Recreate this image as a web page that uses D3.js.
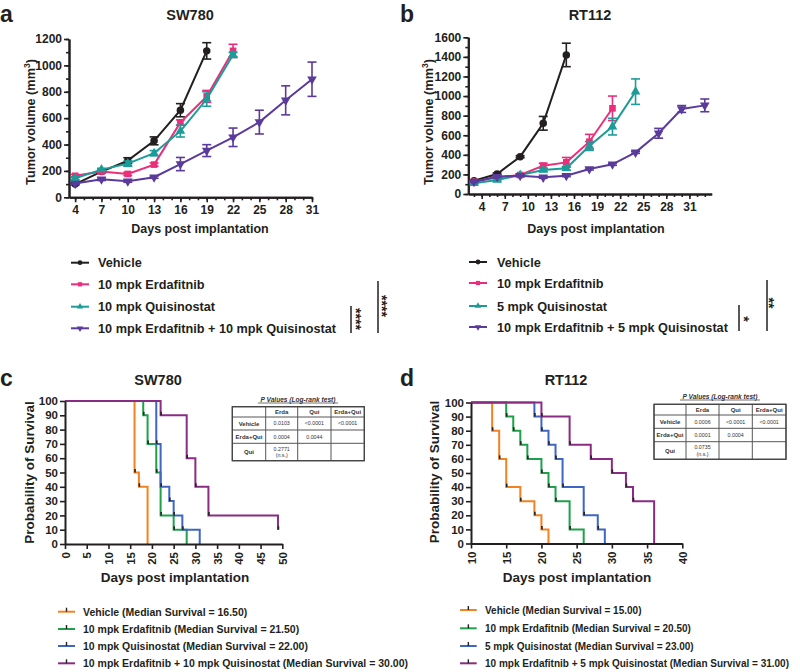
<!DOCTYPE html>
<html><head><meta charset="utf-8">
<script src="https://cdn.jsdelivr.net/npm/d3@7"></script>
<style>
body{margin:0;background:#fff}
svg{display:block;font-family:"Liberation Sans",Arial,sans-serif;font-weight:bold}
</style>
</head><body>
<script>
// ---------- Panel a (SW780 tumor growth) ----------
const daysA = [4,7,10,13,16,19,22,25,28,31];
const aVehicle = [100,195,278,428,660,1110];
const aVehicleErr = [6,10,22,30,50,62];
const aErda = [163,195,177,248,567,765,1110];
const aErdaErr = [10,10,12,12,20,45,50];
const aQui = [144,210,255,334,502,745,1080];
const aQuiErr = [10,10,20,20,45,55,20];
const aCombo = [104,137,122,152,252,354,455,570,735,895];
const aComboErr = [6,10,8,8,50,45,70,90,110,130];
const aLabels = ["Vehicle","10 mpk Erdafitnib","10 mpk Quisinostat","10 mpk Erdafitnib + 10 mpk Quisinostat"];
const aXTicks = [4,7,10,13,16,19,22,25,28,31];
const aYTicks = [0,200,400,600,800,1000,1200];

// ---------- Panel b (RT112 tumor growth) ----------
const daysB = [3,6,9,12,15,18,21,24,27,30,33];
const bVehicle = [136,204,381,722,1420];
const bVehicleErr = [8,10,10,70,120];
const bErda = [126,170,194,289,323,534,875];
const bErdaErr = [8,8,10,25,50,75,125];
const bQui = [109,143,194,245,262,490,688,1045];
const bQuiErr = [8,10,10,15,20,45,85,130];
const bCombo = [126,177,187,170,187,255,303,425,620,868,905];
const bComboErr = [8,8,8,10,10,10,10,10,50,35,65];
const bLabels = ["Vehicle","10 mpk Erdafitnib","5 mpk Quisinostat","10 mpk Erdafitnib + 5 mpk Quisinostat"];
const bXTicks = [4,7,10,13,16,19,22,25,28,31];
const bYTicks = [0,200,400,600,800,1000,1200,1400,1600];

// ---------- Panel c (SW780 survival) ----------
const cVehicleT = [16,17,19], cVehicleS = [50,40,0];
const cErdaT = [18,19,21,22,25,28], cErdaS = [90,70,50,20,10,0];
const cQuiT = [21,22,24,25,27,31], cQuiS = [70,40,30,20,10,0];
const cComboT = [22,28,30,33,49], cComboS = [90,60,40,20,10];
const cLabels = ["Vehicle (Median Survival = 16.50)","10 mpk Erdafitnib (Median Survival = 21.50)","10 mpk Quisinostat (Median Survival = 22.00)","10 mpk Erdafitnib + 10 mpk Quisinostat (Median Survival = 30.00)"];
const cXTicks = [0,5,10,15,20,25,30,35,40,45,50];
const survYTicks = [0,10,20,30,40,50,60,70,80,90,100];
const cTable = [["Vehicle","0.0103","<0.0001","<0.0001"],["Erda+Qui","0.0004","0.0044",""],["Qui","0.2771|(n.s.)","",""]];

// ---------- Panel d (RT112 survival) ----------
const dVehicleT = [13,14,15,17,19,20,21], dVehicleS = [80,60,40,30,20,10,0];
const dErdaT = [15,16,17,18,20,21,22,24,26], dErdaS = [90,80,70,60,50,40,30,10,0];
const dQuiT = [19,20,21,22,23,26,28,29], dQuiS = [90,80,70,60,40,20,10,0];
const dComboT = [20,24,27,30,32,33,36], dComboS = [90,70,60,50,40,30,0];
const dLabels = ["Vehicle (Median Survival = 15.00)","10 mpk Erdafitnib (Median Survival = 20.50)","5 mpk Quisinostat (Median Survival = 23.00)","10 mpk Erdafitnib + 5 mpk Quisinostat (Median Survival = 31.00)"];
const dXTicks = [10,15,20,25,30,35,40];
const dTable = [["Vehicle","0.0006","<0.0001","<0.0001"],["Erda+Qui","0.0001","0.0004",""],["Qui","0.0735|(n.s.)","",""]];
const tableHeader = ["","Erda","Qui","Erda+Qui"];

const INK = "#231f20";
const growthColors = ["#231f20","#ec2d7a","#1c9c98","#5a3a9b"];
const survColors = ["#f58220","#1ea14a","#3f66c4","#8b2c84"];
const symbols = [
  {t:d3.symbolCircle, rot:0, s:44},
  {t:d3.symbolSquare, rot:0, s:44},
  {t:d3.symbolTriangle, rot:0, s:40},
  {t:d3.symbolTriangle, rot:180, s:40}
];

const svg = d3.select("body").append("svg").attr("width",800).attr("height",672);
svg.append("rect").attr("width",800).attr("height",672).attr("fill","#fff");

function styleAxis(sel, fs){
  sel.select(".domain").attr("stroke",INK).attr("stroke-width",2);
  sel.selectAll(".tick line").attr("stroke",INK).attr("stroke-width",1.6);
  sel.selectAll(".tick text").attr("fill",INK).attr("font-size",fs).attr("font-weight","bold")
     .attr("font-family",'"Liberation Sans",Arial,sans-serif');
}

function panelLabel(x,y,t){
  svg.append("text").attr("x",x).attr("y",y).attr("font-size",23).attr("fill",INK).text(t);
}
function title(x,y,t){
  svg.append("text").attr("x",x).attr("y",y).attr("text-anchor","middle").attr("font-size",14.5).attr("fill",INK).text(t);
}

function growthPanel(cfg){
  const {x,y,xTicks,yTicks,minorX,minorY,series,yTitleX,yTitleY,xTitleX,xTitleY} = cfg;
  const g = svg.append("g");
  const y0 = y(0), x0 = x.range()[0];
  g.append("g").attr("transform",`translate(0,${y0})`)
    .call(d3.axisBottom(x).tickValues(minorX).tickSize(3).tickFormat("").tickSizeOuter(0))
    .call(s=>styleAxis(s,12));
  g.append("g").attr("transform",`translate(${x0},0)`)
    .call(d3.axisLeft(y).tickValues(minorY).tickSize(3).tickFormat("").tickSizeOuter(0))
    .call(s=>styleAxis(s,12));
  g.append("g").attr("transform",`translate(0,${y0})`)
    .call(d3.axisBottom(x).tickValues(xTicks).tickSize(5).tickPadding(3).tickSizeOuter(0).tickFormat(d3.format("d")))
    .call(s=>styleAxis(s,12));
  g.append("g").attr("transform",`translate(${x0},0)`)
    .call(d3.axisLeft(y).tickValues(yTicks).tickSize(5).tickPadding(2).tickSizeOuter(0).tickFormat(d3.format("d")))
    .call(s=>styleAxis(s,12));
  series.forEach((s,i)=>{
    const pts = s.vals.map((v,j)=>({d:s.days[j], v, e:s.err[j]}));
    const col = growthColors[i];
    g.append("path").datum(pts).attr("fill","none").attr("stroke",col).attr("stroke-width",2)
      .attr("d",d3.line().x(p=>x(p.d)).y(p=>y(p.v)));
    const eb = g.append("g").attr("stroke",col).attr("stroke-width",1.6);
    pts.forEach(p=>{
      const xx = x(p.d), yt = y(p.v+p.e), yb = y(p.v-p.e);
      eb.append("line").attr("x1",xx).attr("x2",xx).attr("y1",yt).attr("y2",yb);
      eb.append("line").attr("x1",xx-4.5).attr("x2",xx+4.5).attr("y1",yt).attr("y2",yt);
      eb.append("line").attr("x1",xx-4.5).attr("x2",xx+4.5).attr("y1",yb).attr("y2",yb);
    });
    const sym = symbols[i];
    g.selectAll(null).data(pts).join("path")
      .attr("transform",p=>`translate(${x(p.d)},${y(p.v)}) rotate(${sym.rot})`)
      .attr("d",d3.symbol().type(sym.t).size(sym.s)).attr("fill",col);
  });
  const yt = g.append("text").attr("transform",`translate(${yTitleX},${yTitleY}) rotate(-90)`)
    .attr("text-anchor","middle").attr("font-size",12.7).attr("fill",INK);
  yt.append("tspan").text("Tumor volume (mm");
  yt.append("tspan").attr("font-size",8.5).attr("dy",-5).text("3");
  yt.append("tspan").attr("dy",5).text(")");
  g.append("text").attr("x",xTitleX).attr("y",xTitleY).attr("text-anchor","middle")
    .attr("font-size",12.5).attr("fill",INK).text("Days post implantation");
}

function growthLegend(x1,x2,tx,rows,labels){
  labels.forEach((lab,i)=>{
    const yy = rows[i], col = growthColors[i], sym = symbols[i];
    svg.append("line").attr("x1",x1).attr("x2",x2).attr("y1",yy).attr("y2",yy).attr("stroke",col).attr("stroke-width",2);
    svg.append("path").attr("transform",`translate(${(x1+x2)/2},${yy}) rotate(${sym.rot})`)
      .attr("d",d3.symbol().type(sym.t).size(18)).attr("fill",col);
    svg.append("text").attr("x",tx).attr("y",yy+4.6).attr("font-size",12.7).attr("fill",INK).text(lab);
  });
}

function sigBar(x,yTop,yBot,stars,cx,cy){
  const fs = 14;
  svg.append("line").attr("x1",x).attr("x2",x).attr("y1",yTop).attr("y2",yBot).attr("stroke",INK).attr("stroke-width",1.5);
  svg.append("text").attr("transform",`translate(${cx-0.56*fs},${cy}) rotate(90)`).attr("text-anchor","middle")
    .attr("font-size",fs).attr("fill",INK).text(stars);
}

function survPanel(cfg){
  const {x,y,xTicks,curves,start,yTitleX,yTitleY,xTitleX,xTitleY} = cfg;
  const g = svg.append("g");
  const y0 = y(0), x0 = x.range()[0];
  curves.forEach((c,i)=>{
    let d = `M${x(start)},${y(100)}`;
    c.t.forEach((t,j)=>{ d += `H${x(t)}V${y(c.s[j])}`; });
    g.append("path").attr("d",d).attr("fill","none").attr("stroke",survColors[i]).attr("stroke-width",2);
  });
  curves.forEach((c,i)=>{
    c.t.forEach((t,j)=>{
      if (c.s[j] > 0) g.append("line").attr("x1",x(t)+0.5).attr("x2",x(t)+0.5)
        .attr("y1",y(c.s[j])).attr("y2",y(c.s[j])-3.5).attr("stroke","#222").attr("stroke-width",1.6);
    });
  });
  const xa = g.append("g").attr("transform",`translate(0,${y0})`)
    .call(d3.axisBottom(x).tickValues(xTicks).tickSize(5).tickSizeOuter(0))
    .call(s=>styleAxis(s,11.5));
  xa.selectAll(".tick text").attr("transform","translate(0,8) rotate(-90)").attr("text-anchor","end")
    .attr("x",0).attr("y",0).attr("dy","0.35em");
  g.append("g").attr("transform",`translate(${x0},0)`)
    .call(d3.axisLeft(y).tickValues(survYTicks).tickSize(5).tickPadding(2).tickSizeOuter(0))
    .call(s=>styleAxis(s,11.5));
  g.append("text").attr("transform",`translate(${yTitleX},${yTitleY}) rotate(-90)`)
    .attr("text-anchor","middle").attr("font-size",13.5).attr("fill",INK).text("Probability of Survival");
  g.append("text").attr("x",xTitleX).attr("y",xTitleY).attr("text-anchor","middle")
    .attr("font-size",13.5).attr("fill",INK).text("Days post implantation");
}

function survLegend(x1,x2,tx,rows,labels,fs){
  labels.forEach((lab,i)=>{
    const yy = rows[i];
    svg.append("line").attr("x1",x1).attr("x2",x2).attr("y1",yy).attr("y2",yy).attr("stroke",survColors[i]).attr("stroke-width",2);
    const m = (x1+x2)/2;
    svg.append("line").attr("x1",m).attr("x2",m).attr("y1",yy).attr("y2",yy-4).attr("stroke","#222").attr("stroke-width",1.4);
    svg.append("text").attr("x",tx).attr("y",yy+3.8).attr("font-size",fs).attr("fill",INK).text(lab);
  });
}

function pTable(colX,rowY,titleX,titleY,rows){
  const g = svg.append("g");
  g.append("text").attr("x",titleX).attr("y",titleY).attr("text-anchor","middle")
    .attr("font-size",6.6).attr("font-style","italic").attr("fill","#333").text("P Values (Log-rank test)");
  const tw = 80;
  g.append("line").attr("x1",titleX-tw/2).attr("x2",titleX+tw/2).attr("y1",titleY+1.5).attr("y2",titleY+1.5)
    .attr("stroke","#333").attr("stroke-width",0.7);
  const all = [tableHeader].concat(rows);
  colX.forEach(cx=>g.append("line").attr("x1",cx).attr("x2",cx).attr("y1",rowY[0]).attr("y2",rowY[rowY.length-1])
    .attr("stroke","#555").attr("stroke-width",1));
  rowY.forEach(ry=>g.append("line").attr("x1",colX[0]).attr("x2",colX[colX.length-1]).attr("y1",ry).attr("y2",ry)
    .attr("stroke","#555").attr("stroke-width",1));
  g.append("rect").attr("x",colX[0]).attr("y",rowY[0]).attr("width",colX[colX.length-1]-colX[0])
    .attr("height",rowY[rowY.length-1]-rowY[0]).attr("fill","none").attr("stroke","#444").attr("stroke-width",1.3);
  all.forEach((r,ri)=>{
    r.forEach((cell,ci)=>{
      if(!cell) return;
      const cx = (colX[ci]+colX[ci+1])/2, cy = (rowY[ri]+rowY[ri+1])/2;
      const lines = cell.split("|");
      const fs = (ri===0||ci===0) ? 6 : 5.3;
      lines.forEach((ln,li)=>{
        g.append("text").attr("x",cx).attr("y",cy + (li-(lines.length-1)/2)*6.3 + fs*0.36)
          .attr("text-anchor","middle").attr("font-size",fs).attr("font-weight",(ri===0||ci===0)?"bold":"normal")
          .attr("fill","#333").text(ln);
      });
    });
  });
}

// ---------- draw a ----------
const xA = d3.scaleLinear().domain([3.3,31]).range([69,312]);
const yA = d3.scaleLinear().domain([0,1200]).range([197.3,39]);
panelLabel(0,22,"a"); title(190,20,"SW780");
growthPanel({x:xA,y:yA,xTicks:aXTicks,yTicks:aYTicks,minorX:d3.range(4,32),minorY:d3.range(0,1201,100),
  series:[{days:daysA,vals:aVehicle,err:aVehicleErr},{days:daysA,vals:aErda,err:aErdaErr},
          {days:daysA,vals:aQui,err:aQuiErr},{days:daysA,vals:aCombo,err:aComboErr}],
  yTitleX:35,yTitleY:122,xTitleX:200,xTitleY:233});
growthLegend(71,89,98,[262.7,284.3,306.7,328.3],aLabels);
sigBar(351,306,333,"****",358.5,319);
sigBar(378,281,333,"****",385,306);

// ---------- draw b ----------
const xB = d3.scaleLinear().domain([2.26,33.9]).range([468.3,711.7]);
const yB = d3.scaleLinear().domain([0,1600]).range([194,37.3]);
panelLabel(400,22,"b"); title(590,20,"RT112");
growthPanel({x:xB,y:yB,xTicks:bXTicks,yTicks:bYTicks,minorX:d3.range(3,34),minorY:d3.range(0,1601,100),
  series:[{days:daysB,vals:bVehicle,err:bVehicleErr},{days:daysB,vals:bErda,err:bErdaErr},
          {days:daysB,vals:bQui,err:bQuiErr},{days:daysB,vals:bCombo,err:bComboErr}],
  yTitleX:433,yTitleY:122,xTitleX:596,xTitleY:233});
growthLegend(469,487,497,[262,283,306,327],bLabels);
sigBar(739,305,331,"*",746.5,319);
sigBar(767,280,331,"**",772,303);

// ---------- draw c ----------
const xC = d3.scaleLinear().domain([0,50]).range([65,282.3]);
const yC = d3.scaleLinear().domain([0,100]).range([544,401]);
panelLabel(0,386,"c"); title(158,385,"SW780");
survPanel({x:xC,y:yC,xTicks:cXTicks,start:0,
  curves:[{t:cVehicleT,s:cVehicleS},{t:cErdaT,s:cErdaS},{t:cQuiT,s:cQuiS},{t:cComboT,s:cComboS}],
  yTitleX:33.5,yTitleY:472.5,xTitleX:175,xTitleY:582});
pTable([232.3,265.7,297.7,331,364.3],[406.7,417,430,443.3,460.7],298,401.5,cTable);
survLegend(58,75,83,[611.7,629,646,663.3],cLabels,10.5);

// ---------- draw d ----------
const xD = d3.scaleLinear().domain([10,40]).range([471,682.3]);
const yD = d3.scaleLinear().domain([0,100]).range([543.5,402.5]);
panelLabel(400,386,"d"); title(566,385,"RT112");
survPanel({x:xD,y:yD,xTicks:dXTicks,start:10,
  curves:[{t:dVehicleT,s:dVehicleS},{t:dErdaT,s:dErdaS},{t:dQuiT,s:dQuiS},{t:dComboT,s:dComboS}],
  yTitleX:439,yTitleY:472,xTitleX:577,xTitleY:582});
pTable([654,686,719,752.3,786],[404.3,415,428.3,441.7,459.3],720,398.5,dTable);
survLegend(460,476.7,485,[610,628.3,646,663.3],dLabels,10);
</script>
</body></html>
